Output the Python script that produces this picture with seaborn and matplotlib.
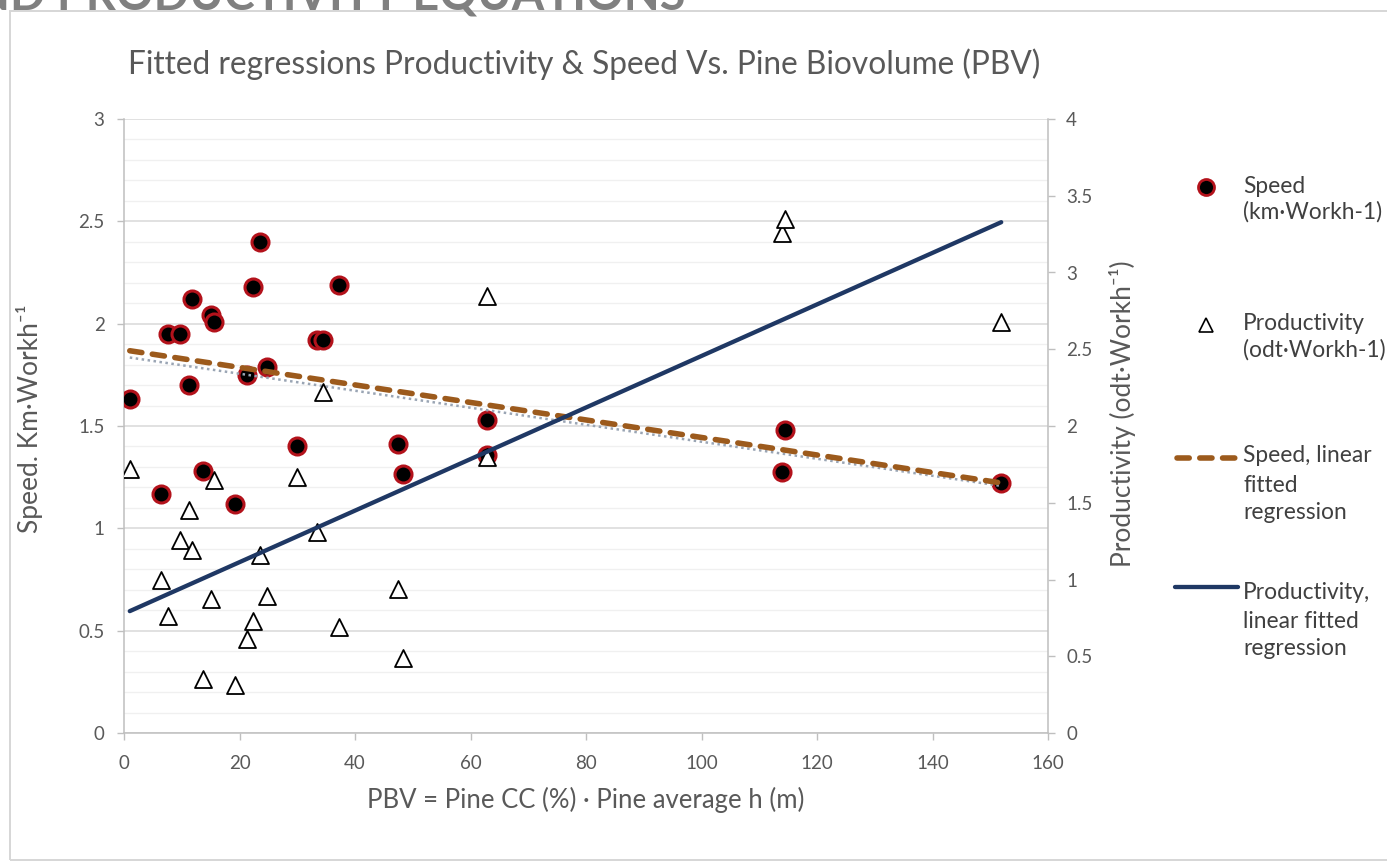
import numpy as np
import matplotlib
matplotlib.use("Agg")
import matplotlib.pyplot as plt
import seaborn as sns
from matplotlib.lines import Line2D
from matplotlib.patches import Rectangle
from matplotlib.ticker import MultipleLocator, FuncFormatter

# ---- data: one value per plot -------------------------------------------
pbv = [1.0, 6.4, 7.7, 9.7, 11.3, 11.7, 13.6, 15.0, 15.5, 19.3, 21.3, 22.4,
       23.5, 24.8, 29.9, 33.4, 34.5, 37.2, 47.5, 48.3, 62.8, 62.9, 113.9,
       114.4, 151.9]
speed = [1.63, 1.17, 1.95, 1.95, 1.70, 2.12, 1.28, 2.04, 2.01, 1.12, 1.75,
         2.18, 2.40, 1.79, 1.40, 1.92, 1.92, 2.19, 1.41, 1.265, 1.53, 1.36,
         1.275, 1.48, 1.22]
productivity = [1.72, 1.00, 0.76, 1.26, 1.45, 1.19, 0.35, 0.87, 1.65, 0.31,
                0.61, 0.73, 1.16, 0.89, 1.67, 1.31, 2.22, 0.69, 0.94, 0.49,
                2.85, 1.80, 3.26, 3.35, 2.68]

# linear fitted regression for speed (intercept, slope)
speed_fit_intercept = 1.872
speed_fit_slope = -0.00428

x_ticks_step = 20
speed_ticks_step = 0.5
prod_ticks_step = 0.5

title = "Fitted regressions Productivity & Speed Vs. Pine Biovolume (PBV)"
heading = "ND PRODUCTIVITY EQUATIONS"
x_label = "PBV = Pine CC (%) \u00b7 Pine average h (m)"
y_label = "Speed. Km\u00b7Workh\u207b\u00b9"
y2_label = "Productivity (odt\u00b7Workh\u207b\u00b9)"
legend_labels = ["Speed\n(km\u00b7Workh-1)",
                 "Productivity\n(odt\u00b7Workh-1)",
                 "Speed, linear\nfitted\nregression",
                 "Productivity,\nlinear fitted\nregression"]

# ---- style ---------------------------------------------------------------
sns.set_style("white")
plt.rcParams["font.family"] = ["Lato", "DejaVu Sans"]
TXT = "#595959"
AXC = "#bfbfbf"
RED_EDGE = "#b3121b"
BROWN = "#9c5a1c"
NAVY = "#1f3864"
DOT_GREY = "#9aa5b4"

W, H = 1387, 863
fig = plt.figure(figsize=(W / 100, H / 100), dpi=100)
fig.patch.set_facecolor("white")


def fx(px):
    return px / W


def fy(py):
    return 1 - py / H


# outer chart frame
fig.patches.append(Rectangle((fx(10), fy(860)), 1.2, fy(11) - fy(860),
                             transform=fig.transFigure, fill=False,
                             edgecolor="#d6d6d6", linewidth=1.4, zorder=0))

ax = fig.add_axes([fx(124), fy(733), (1048 - 124) / W, (733 - 119) / H])
ax2 = ax.twinx()

# speed points and fits (left axis)
sns.scatterplot(x=pbv, y=speed, ax=ax, marker="o", s=150, color="black",
                edgecolor=RED_EDGE, linewidth=2.2, zorder=3, legend=False)
sns.regplot(x=np.array(pbv), y=np.array(speed), ax=ax, scatter=False,
            ci=None, truncate=True,
            line_kws=dict(color=DOT_GREY, linewidth=1.8,
                          linestyle=(0, (1.0, 1.4)), zorder=4))
fit_x = np.array([min(pbv), max(pbv)])
fit_y = speed_fit_intercept + speed_fit_slope * fit_x
sns.lineplot(x=fit_x, y=fit_y, ax=ax, color=BROWN, linewidth=4.0,
             linestyle=(0, (2.2, 1.9)), dash_capstyle="round", zorder=5)

# productivity points and fit (right axis)
sns.scatterplot(x=pbv, y=productivity, ax=ax2, marker="^", s=150,
                color="white", edgecolor="black", linewidth=1.3, zorder=3,
                legend=False)
sns.regplot(x=np.array(pbv), y=np.array(productivity), ax=ax2, scatter=False,
            ci=None, truncate=True,
            line_kws=dict(color=NAVY, linewidth=3.1, zorder=4))

# ---- axes ------------------------------------------------------------------
ax.set_xlim(0, 160)
ax.set_ylim(0, 3)
ax2.set_ylim(0, 4)
fmt = FuncFormatter(lambda v, p: f"{v:g}")
ax.xaxis.set_major_locator(MultipleLocator(x_ticks_step))
ax.yaxis.set_major_locator(MultipleLocator(speed_ticks_step))
ax.yaxis.set_minor_locator(MultipleLocator(0.1))
ax2.yaxis.set_major_locator(MultipleLocator(prod_ticks_step))
for a in (ax.xaxis, ax.yaxis, ax2.yaxis):
    a.set_major_formatter(fmt)

ax.set_axisbelow(True)
ax.grid(which="major", axis="y", color="#d9d9d9", linewidth=1.1)
ax.grid(which="minor", axis="y", color="#f0f0f0", linewidth=1.0)
ax.grid(which="major", axis="x", visible=False)
ax2.grid(False)

for s in ("top", "right"):
    ax.spines[s].set_visible(False)
for s in ("top", "left", "bottom"):
    ax2.spines[s].set_visible(False)
for sp in (ax.spines["left"], ax.spines["bottom"], ax2.spines["right"]):
    sp.set_color(AXC)
    sp.set_linewidth(1.1)

TICK_FS = 13.5
ax.tick_params(axis="y", which="major", left=True, length=5, width=1,
               color=AXC, labelcolor=TXT, labelsize=TICK_FS, pad=9)
ax.tick_params(axis="y", which="minor", left=False, length=0)
ax.tick_params(axis="x", which="major", bottom=True, length=5, width=1,
               color=AXC, labelcolor=TXT, labelsize=TICK_FS, pad=11)
ax2.tick_params(axis="y", which="major", right=True, length=5, width=1,
                color=AXC, labelcolor=TXT, labelsize=TICK_FS, pad=8)

ax.set_xlabel(x_label, fontsize=18.5, color=TXT, ha="center", va="center")
ax.xaxis.set_label_coords(0.5, (733 - 800) / 614)
ax.set_ylabel(y_label, fontsize=19, color=TXT, ha="center", va="center")
ax.yaxis.set_label_coords((30 - 124) / 924, (733 - 419) / 614)
ax2.set_ylabel(y2_label, fontsize=19, color=TXT, ha="center", va="center",
               rotation=90)
ax2.yaxis.set_label_coords((1122 - 124) / 924, (733 - 414) / 614)

# ---- title and page heading ----------------------------------------------
fig.text(fx(584.5), fy(64), title, ha="center", va="center", fontsize=22.8,
         color=TXT)
head = fig.text(fx(685), fy(9.5), heading, ha="right", va="baseline",
                fontsize=30, fontweight="bold", color="#808080")
renderer = fig.canvas.get_renderer()
hw = head.get_window_extent(renderer).width
head.set_fontsize(30 * 712 / hw)

# ---- legend ------------------------------------------------------------------
handles = [
    Line2D([fx(1206)], [fy(187)], marker="o", markersize=11.5, color="black",
           markeredgecolor=RED_EDGE, markeredgewidth=2.0, linestyle="none"),
    Line2D([fx(1206)], [fy(325)], marker="^", markersize=10,
           markerfacecolor="white", markeredgecolor="black",
           markeredgewidth=1.2, linestyle="none"),
    Line2D([fx(1177), fx(1236)], [fy(458), fy(458)], color=BROWN,
           linewidth=4.0, linestyle=(0, (2.2, 1.9)), dash_capstyle="round"),
    Line2D([fx(1175), fx(1238)], [fy(587), fy(587)], color=NAVY,
           linewidth=3.1),
]
# baseline of every label line, per entry
line_baselines = [[193, 219], [330, 357], [462, 492, 519], [599, 628, 655]]
for h, lab, bases in zip(handles, legend_labels, line_baselines):
    h.set_transform(fig.transFigure)
    fig.lines.append(h)
    for line, b in zip(lab.split("\n"), bases):
        fig.text(fx(1243), fy(b), line, ha="left", va="baseline",
                 fontsize=16.4, color="#404040")

fig.savefig("out.png", dpi=100, facecolor="white")
